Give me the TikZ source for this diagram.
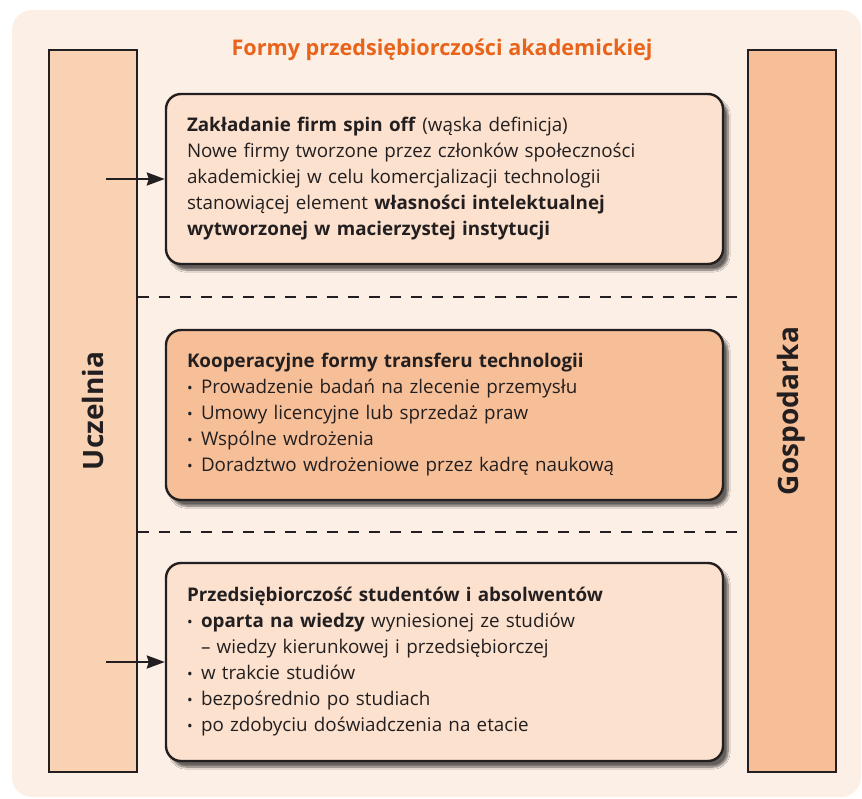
\documentclass[tikz,border=0pt]{standalone}
\usepackage{fontspec}
\setmainfont{Open Sans}
\usetikzlibrary{arrows.meta,shadows.blur}

\definecolor{tlo}{HTML}{FCEFE6}
\definecolor{jasny}{HTML}{F9D2B4}
\definecolor{ciemny}{HTML}{F7BF97}
\definecolor{pole}{HTML}{FBE1CE}
\definecolor{pomarancz}{HTML}{E8641B}
\definecolor{linia}{HTML}{231F20}

\newcommand{\pkt}[1]{\makebox[14pt][l]{\raisebox{0.5pt}{\fontsize{15}{15}\selectfont •}}#1}

\begin{document}
\begin{tikzpicture}[x=1pt, y=-1pt,
    kolumna/.style={draw=linia, line width=2pt, minimum width=88pt, minimum height=722pt, inner sep=0pt},
    napis/.style={rotate=90, font=\fontsize{28}{30}\selectfont\bfseries, text=linia},
    ramka/.style={draw=linia, line width=2.4pt, rounded corners=15pt, text width=515pt, inner xsep=21pt,
        align=left, text=linia, font=\fontsize{18.8}{26}\selectfont,
        blur shadow={shadow xshift=5pt, shadow yshift=-6pt, shadow blur steps=8, shadow opacity=60}},
    podzial/.style={linia, line width=2pt, dash pattern=on 11pt off 10pt},
    strzalka/.style={linia, line width=2.4pt, -{Stealth[length=18pt, width=13pt, inset=2pt]}}]
    \useasboundingbox (0,0) rectangle (862,798);

    % Draw background
    \fill[tlo, rounded corners=20pt] (12,10) rectangle (861,797);

    % Draw side columns
    \node[kolumna, fill=jasny] (uczelnia) at (93,411) {};
    \node[kolumna, fill=ciemny] (gospodarka) at (791.5,411) {};
    \node[napis] (uczelniaTxt) at (uczelnia.center) {Uczelnia};
    \node[napis] (gospodarkaTxt) at (gospodarka.center) {Gospodarka};

    % Draw title
    \node[font=\fontsize{21.6}{26}\selectfont\bfseries, text=pomarancz] (tytul) at (442,50) {Formy przedsiębiorczości akademickiej};

    % Draw separators
    \draw[podzial] (uczelnia.east |- 0,297) -- (gospodarka.west |- 0,297);
    \draw[podzial] (uczelnia.east |- 0,532) -- (gospodarka.west |- 0,532);

    % Draw boxes
    \node[ramka, fill=pole, minimum height=170pt] (spinoff) at (444.5,179) {%
        \textbf{Zakładanie firm spin off} (wąska definicja)\\
        Nowe firmy tworzone przez członków społeczności\\
        akademickiej w celu komercjalizacji technologii\\
        stanowiącej element \textbf{własności intelektualnej}\\
        \textbf{wytworzonej w macierzystej instytucji}};
    \node[ramka, fill=ciemny, minimum height=170pt] (transfer) at (444.5,415) {%
        \textbf{Kooperacyjne formy transferu technologii}\\
        \pkt{Prowadzenie badań na zlecenie przemysłu}\\
        \pkt{Umowy licencyjne lub sprzedaż praw}\\
        \pkt{Wspólne wdrożenia}\\
        \pkt{Doradztwo wdrożeniowe przez kadrę naukową}};
    \node[ramka, fill=pole, minimum height=198pt] (studenci) at (444.5,662) {%
        \textbf{Przedsiębiorczość studentów i absolwentów}\\
        \pkt{\textbf{oparta na wiedzy} wyniesionej ze studiów}\\
        \hspace*{14pt}– wiedzy kierunkowej i przedsiębiorczej\\
        \pkt{w trakcie studiów}\\
        \pkt{bezpośrednio po studiach}\\
        \pkt{po zdobyciu doświadczenia na etacie}};

    % Draw arrows
    \coordinate (start1) at (106,179);
    \coordinate (start3) at (106,662);
    \draw[strzalka] (start1) -- (spinoff.west);
    \draw[strzalka] (start3) -- (studenci.west);
\end{tikzpicture}
\end{document}
